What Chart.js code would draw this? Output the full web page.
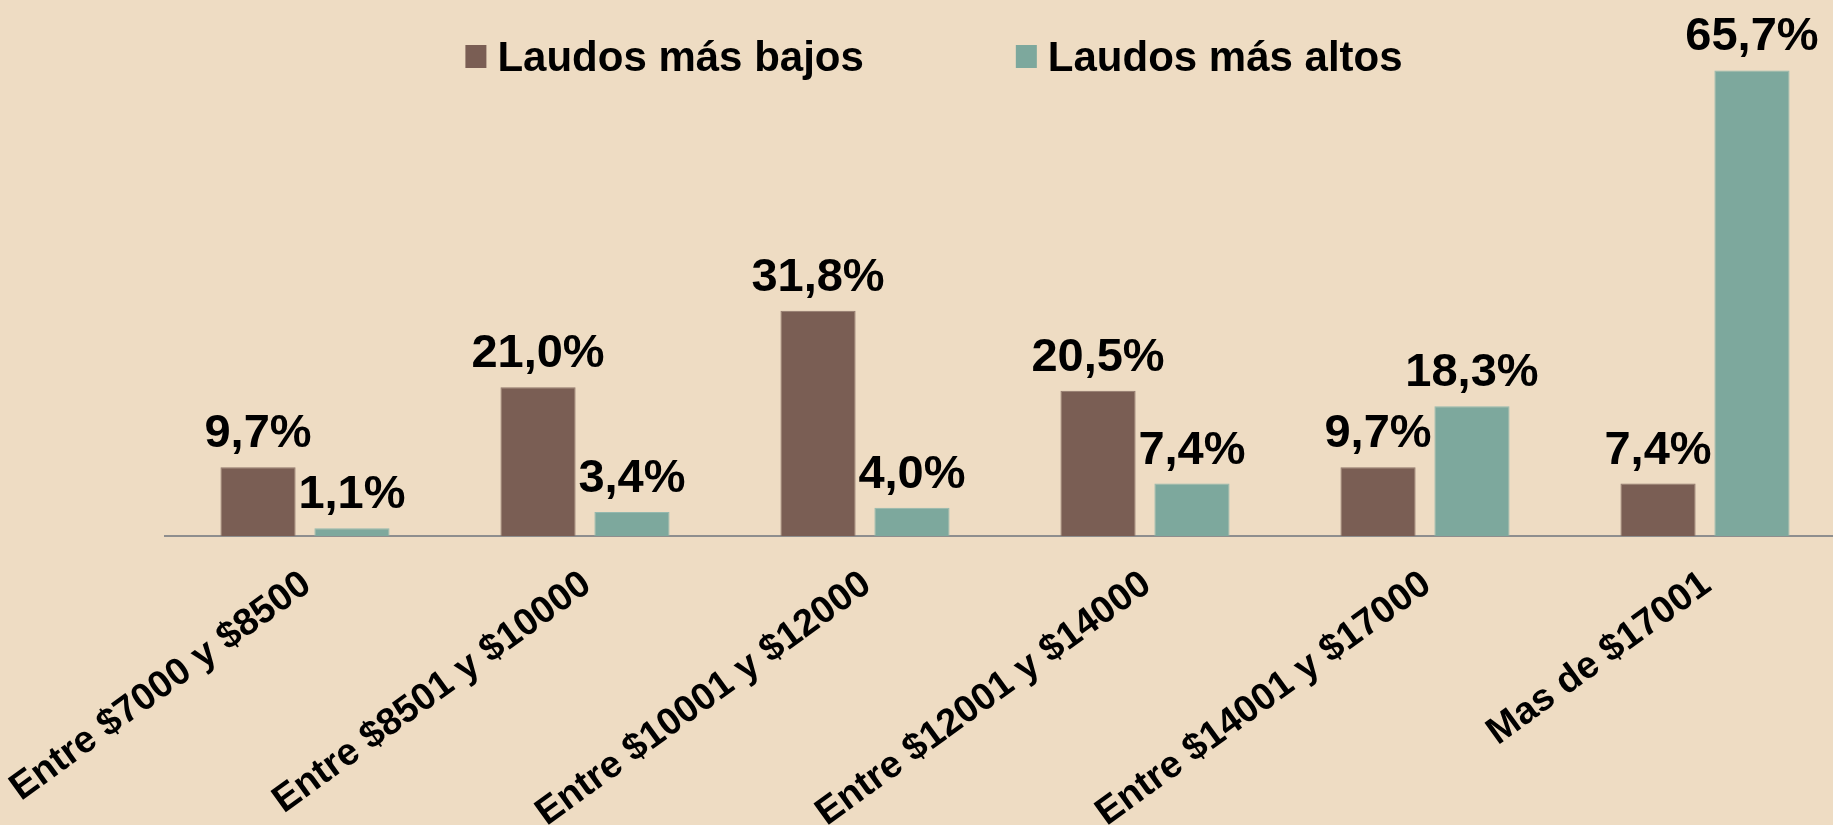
<!DOCTYPE html>
<html>
<head>
<meta charset="utf-8">
<script src="https://cdn.jsdelivr.net/npm/chart.js@4.4.1/dist/chart.umd.min.js"></script>
<style>
  html, body { margin: 0; padding: 0; background: #eedcc3; overflow: hidden; width: 1833px; height: 825px; }
  #wrap { width: 1860px; height: 825px; }
</style>
</head>
<body>
<div id="wrap"><canvas id="chart" width="1860" height="825"></canvas></div>
<script>
// Chart data
const categories = [
  'Entre $7000 y $8500',
  'Entre $8501 y $10000',
  'Entre $10001 y $12000',
  'Entre $12001 y $14000',
  'Entre $14001 y $17000',
  'Mas de $17001'
];
const laudosBajos = [9.7, 21.0, 31.8, 20.5, 9.7, 7.4];
const laudosAltos = [1.1, 3.4, 4.0, 7.4, 18.3, 65.7];
const seriesNames = ['Laudos más bajos', 'Laudos más altos'];

const FONT = "'Liberation Sans', Arial, sans-serif";
const BROWN = '#7a5e54';
const TEAL = '#7da89d';

const fmt = v => v.toFixed(1).replace('.', ',') + '%';

// value labels above each bar
const barLabels = {
  id: 'barLabels',
  afterDatasetsDraw(chart) {
    const ctx = chart.ctx;
    ctx.save();
    ctx.font = 'bold 47px ' + FONT;
    ctx.fillStyle = '#000';
    ctx.textAlign = 'center';
    ctx.textBaseline = 'alphabetic';
    chart.data.datasets.forEach((ds, i) => {
      chart.getDatasetMeta(i).data.forEach((bar, j) => {
        ctx.fillText(fmt(ds.data[j]), bar.x, bar.y - 20);
      });
    });
    ctx.restore();
  }
};

// legend with wide spacing between the two items
const wideLegend = {
  id: 'wideLegend',
  afterDraw(chart, args, opts) {
    const ctx = chart.ctx;
    ctx.save();
    ctx.font = 'bold 42px ' + FONT;
    ctx.textBaseline = 'alphabetic';
    ctx.textAlign = 'left';
    const items = chart.data.datasets.map(ds => ({ text: ds.label, color: ds.backgroundColor }));
    const widths = items.map(it => opts.box + opts.boxGap + ctx.measureText(it.text).width);
    const total = widths.reduce((a, b) => a + b, 0) + opts.itemGap * (items.length - 1);
    let x = opts.centerX - total / 2;
    items.forEach((it, i) => {
      ctx.fillStyle = it.color;
      ctx.fillRect(x, opts.boxTop, opts.box, opts.boxH);
      ctx.fillStyle = '#000';
      ctx.fillText(it.text, x + opts.box + opts.boxGap, opts.baseline);
      x += widths[i] + opts.itemGap;
    });
    ctx.restore();
  }
};

new Chart(document.getElementById('chart').getContext('2d'), {
  type: 'bar',
  data: {
    labels: categories,
    datasets: [
      {
        label: seriesNames[0],
        data: laudosBajos,
        backgroundColor: BROWN,
        borderColor: '#8e756b',
        borderWidth: 1
      },
      {
        label: seriesNames[1],
        data: laudosAltos,
        backgroundColor: TEAL,
        borderColor: '#93b8ae',
        borderWidth: 1
      }
    ]
  },
  options: {
    responsive: false,
    animation: false,
    devicePixelRatio: 1,
    layout: { padding: { top: 40, left: 165, right: 15, bottom: 0 } },
    datasets: {
      bar: { categoryPercentage: 0.671, barPercentage: 0.8 }
    },
    plugins: {
      legend: { display: false },
      tooltip: { enabled: false },
      wideLegend: { centerX: 934, box: 21, boxH: 23, boxGap: 11, itemGap: 152, boxTop: 45, baseline: 71 }
    },
    scales: {
      x: {
        grid: { display: false, drawTicks: false },
        border: { display: true, color: '#8e8e8e', width: 2 },
        ticks: {
          autoSkip: false,
          minRotation: 36,
          maxRotation: 36,
          padding: 26,
          labelOffset: 2,
          color: '#000',
          font: { family: FONT, size: 38, weight: 'bold' }
        },
        afterFit(scale) {
          scale.height = 289;
          scale.paddingLeft = 0;
          scale.paddingRight = 0;
        }
      },
      y: {
        display: false,
        min: 0,
        max: 70
      }
    }
  },
  plugins: [barLabels, wideLegend]
});
</script>
</body>
</html>
